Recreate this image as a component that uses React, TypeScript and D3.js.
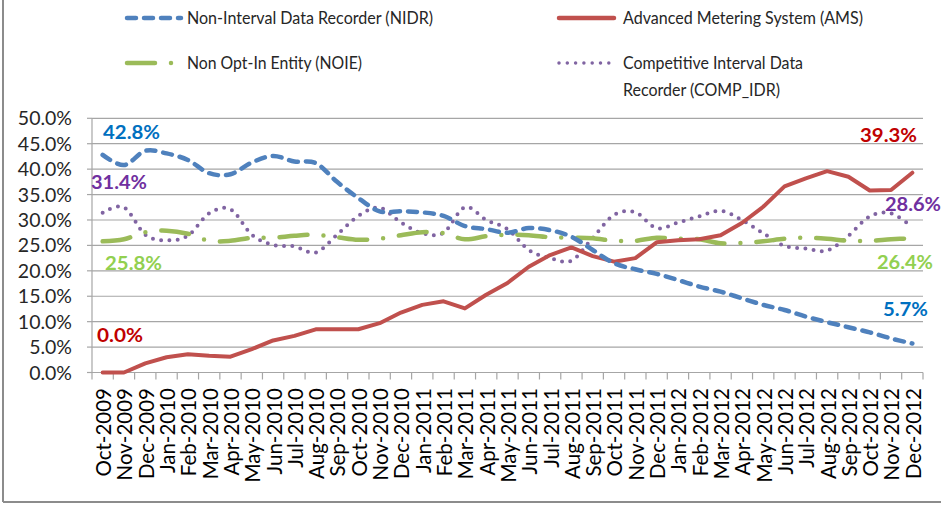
import React from "react";
import * as d3 from "d3";

const months: string[] = [
  "Oct-2009", "Nov-2009", "Dec-2009",
  "Jan-2010", "Feb-2010", "Mar-2010", "Apr-2010", "May-2010", "Jun-2010", "Jul-2010", "Aug-2010", "Sep-2010", "Oct-2010", "Nov-2010", "Dec-2010",
  "Jan-2011", "Feb-2011", "Mar-2011", "Apr-2011", "May-2011", "Jun-2011", "Jul-2011", "Aug-2011", "Sep-2011", "Oct-2011", "Nov-2011", "Dec-2011",
  "Jan-2012", "Feb-2012", "Mar-2012", "Apr-2012", "May-2012", "Jun-2012", "Jul-2012", "Aug-2012", "Sep-2012", "Oct-2012", "Nov-2012", "Dec-2012",
];

const nidr: number[] = [42.8, 40.8, 43.6, 43.1, 41.8, 39.2, 39.0, 41.3, 42.6, 41.5, 41.2, 37.5, 34.3, 31.7, 31.7, 31.5, 30.8, 28.8, 28.2, 27.5, 28.4, 28.0, 26.7, 24.1, 21.5, 20.3, 19.4, 18.2, 16.9, 15.9, 14.6, 13.3, 12.3, 11.0, 9.9, 8.9, 7.9, 6.7, 5.7];
const ams: number[] = [0, 0, 1.8, 3.0, 3.6, 3.3, 3.1, 4.6, 6.3, 7.2, 8.5, 8.5, 8.5, 9.7, 11.8, 13.3, 14.0, 12.6, 15.3, 17.6, 20.8, 23.1, 24.6, 22.9, 21.8, 22.5, 25.6, 26.0, 26.2, 27.0, 29.4, 32.6, 36.6, 38.2, 39.6, 38.5, 35.8, 35.9, 39.3];
const noie: number[] = [25.8, 26.2, 27.6, 27.9, 27.3, 25.9, 25.9, 26.5, 26.5, 26.9, 27.1, 26.6, 26.1, 26.3, 27.0, 27.6, 27.4, 26.2, 26.8, 27.1, 27.0, 26.6, 26.5, 26.4, 25.9, 25.9, 26.5, 26.3, 26.2, 25.4, 25.5, 25.8, 26.3, 26.5, 26.3, 25.9, 25.9, 26.2, 26.4];
const compIdr: number[] = [31.4, 32.5, 27.1, 26.0, 26.9, 31.3, 32.1, 27.1, 25.1, 24.8, 23.6, 27.1, 30.8, 32.4, 29.5, 27.4, 27.5, 32.5, 30.0, 28.2, 24.1, 22.5, 22.0, 26.5, 31.0, 31.5, 28.4, 29.5, 30.7, 31.8, 30.0, 27.4, 24.9, 24.4, 24.0, 26.9, 30.7, 31.3, 28.6];

const yTicks: number[] = [0, 5, 10, 15, 20, 25, 30, 35, 40, 45, 50];

const seriesNames: string[] = ["Non-Interval Data Recorder (NIDR)", "Advanced Metering System (AMS)", "Non Opt-In Entity (NOIE)", "Competitive Interval Data", "Recorder (COMP_IDR)"];

const W = 941, H = 505;
const left = 92, right = 923, top = 118.3, bottom = 372.5;

const C_NIDR = "#4f81bd", C_AMS = "#c0504d", C_NOIE = "#9bbb59", C_COMP = "#8064a2";

export default function App() {
  const x = d3.scaleBand<string>().domain(months).range([left, right]);
  const y = d3.scaleLinear().domain([0, 50]).range([bottom, top]);
  const cx = (i: number) => (x(months[i]) as number) + x.bandwidth() / 2;
  const smooth = d3.line<number>().x((_, i) => cx(i)).y((d) => y(d)).curve(d3.curveCardinal.tension(0));
  const straight = d3.line<number>().x((_, i) => cx(i)).y((d) => y(d));
  const fmt = (v: number) => v.toFixed(1) + "%";
  const last = months.length - 1;
  const font = "Lato, 'Open Sans', sans-serif";

  return (
    <svg width={W} height={H} style={{ position: "absolute", left: 0, top: 0, background: "#fff" }} fontFamily={font}>
      <rect x={0} y={0} width={W} height={H} fill="#fff" />
      {/* frame */}
      <line x1={3} y1={0} x2={3} y2={502} stroke="#8c8c8c" strokeWidth={2} />
      <line x1={3} y1={502} x2={W} y2={502} stroke="#8c8c8c" strokeWidth={2} />

      {/* gridlines */}
      {yTicks.map((t) => (
        <line key={"g" + t} x1={left} x2={right} y1={y(t)} y2={y(t)} stroke="#a6a6a6" strokeWidth={1.2} />
      ))}
      {/* y axis */}
      <line x1={left} x2={left} y1={top} y2={bottom} stroke="#a6a6a6" strokeWidth={1.2} />
      {yTicks.map((t) => (
        <g key={"yt" + t}>
          <line x1={left - 5} x2={left} y1={y(t)} y2={y(t)} stroke="#a6a6a6" strokeWidth={1.2} />
          <text x={72} y={y(t)} dy="0.36em" textAnchor="end" fontSize={19.5} fill="#262626">{fmt(t)}</text>
        </g>
      ))}
      {/* x ticks */}
      {months.map((m) => (
        <line key={"xt" + m} x1={x(m) as number} x2={x(m) as number} y1={bottom} y2={bottom + 7} stroke="#a6a6a6" strokeWidth={1.2} />
      ))}
      <line x1={right} x2={right} y1={bottom} y2={bottom + 7} stroke="#a6a6a6" strokeWidth={1.2} />
      {months.map((m, i) => (
        <text key={"xl" + m} transform={`translate(${cx(i) + 1},388) rotate(-90)`} textAnchor="end" dy="0.36em" fontSize={20.5} fill="#000">{m}</text>
      ))}

      {/* series */}
      <path d={smooth(compIdr) as string} fill="none" stroke={C_COMP} strokeWidth={4} strokeDasharray="0,8.3" strokeLinecap="round" />
      <path d={smooth(noie) as string} fill="none" stroke={C_NOIE} strokeWidth={4.5} strokeDasharray="28,16,0,16" strokeLinecap="round" />
      <path d={straight(ams) as string} fill="none" stroke={C_AMS} strokeWidth={4} strokeLinejoin="round" strokeLinecap="round" />
      <path d={smooth(nidr) as string} fill="none" stroke={C_NIDR} strokeWidth={4.5} strokeDasharray="9,8" strokeLinecap="round" />

      {/* data labels */}
      <text x={103} y={139} fontSize={19.5} fontWeight="bold" fill="#0070c0" textLength={57} lengthAdjust="spacingAndGlyphs">{fmt(nidr[0])}</text>
      <text x={91} y={189} fontSize={19.5} fontWeight="bold" fill="#7030a0" textLength={56} lengthAdjust="spacingAndGlyphs">{fmt(compIdr[0])}</text>
      <text x={105} y={270} fontSize={19.5} fontWeight="bold" fill="#92d050" textLength={57} lengthAdjust="spacingAndGlyphs">{fmt(noie[0])}</text>
      <text x={97} y={342} fontSize={19.5} fontWeight="bold" fill="#c00000" textLength={46} lengthAdjust="spacingAndGlyphs">{fmt(ams[0])}</text>
      <text x={860} y={142} fontSize={19.5} fontWeight="bold" fill="#c00000" textLength={57} lengthAdjust="spacingAndGlyphs">{fmt(ams[last])}</text>
      <text x={885} y={211} fontSize={19.5} fontWeight="bold" fill="#7030a0" textLength={56} lengthAdjust="spacingAndGlyphs">{fmt(compIdr[last])}</text>
      <text x={877} y={269} fontSize={19.5} fontWeight="bold" fill="#92d050" textLength={56} lengthAdjust="spacingAndGlyphs">{fmt(noie[last])}</text>
      <text x={883} y={316} fontSize={19.5} fontWeight="bold" fill="#0070c0" textLength={45} lengthAdjust="spacingAndGlyphs">{fmt(nidr[last])}</text>

      {/* legend */}
      <line x1={127} x2={181} y1={18} y2={18} stroke={C_NIDR} strokeWidth={4.5} strokeDasharray="9,8" strokeLinecap="round" />
      <text x={187} y={24} fontSize={17} fill="#262626" textLength={246} lengthAdjust="spacingAndGlyphs">{seriesNames[0]}</text>
      <line x1={559} x2={614} y1={18} y2={18} stroke={C_AMS} strokeWidth={4.5} strokeLinecap="round" />
      <text x={623} y={24} fontSize={17} fill="#262626" textLength={240} lengthAdjust="spacingAndGlyphs">{seriesNames[1]}</text>
      <line x1={127} x2={172} y1={63} y2={63} stroke={C_NOIE} strokeWidth={4.5} strokeDasharray="28,16,0,16" strokeLinecap="round" />
      <text x={187} y={69} fontSize={17} fill="#262626" textLength={175} lengthAdjust="spacingAndGlyphs">{seriesNames[2]}</text>
      <line x1={559} x2={610} y1={63} y2={63} stroke={C_COMP} strokeWidth={3.5} strokeDasharray="0,8.3" strokeLinecap="round" />
      <text x={623} y={69} fontSize={17} fill="#262626" textLength={180} lengthAdjust="spacingAndGlyphs">{seriesNames[3]}</text>
      <text x={623} y={96} fontSize={17} fill="#262626" textLength={157} lengthAdjust="spacingAndGlyphs">{seriesNames[4]}</text>
    </svg>
  );
}
